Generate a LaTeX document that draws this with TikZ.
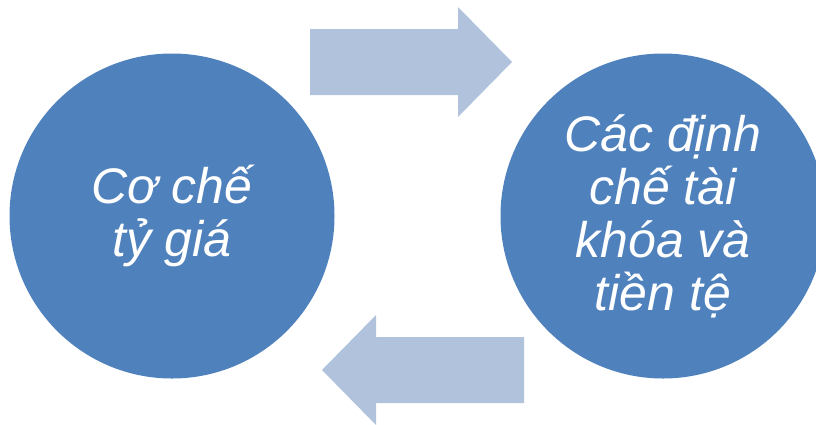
\documentclass[tikz,border=0pt]{standalone}
\usepackage{fontspec}
\setmainfont{Liberation Sans}
\usepackage{tikz}
\usetikzlibrary{shapes}
\definecolor{dotblue}{HTML}{4F81BD}
\definecolor{arrowblue}{HTML}{B1C2DD}

\begin{document}
\begin{tikzpicture}[x=1pt,y=-1pt]
        % 画布大小
        \useasboundingbox (0,0) rectangle (816,424);

        % 两个圆
        \node[circle,fill=dotblue,minimum size=325pt,inner sep=0pt,text=white,align=center,font=\fontsize{50}{53}\selectfont\itshape] (tygia) at (172,216) {Cơ chế\\tỷ giá};
        \node[circle,fill=dotblue,minimum size=325pt,inner sep=0pt,text=white,align=center,font=\fontsize{50}{53}\selectfont\itshape] (dinhche) at (663,216) {Các định\\chế tài\\khóa và\\tiền tệ};

        % 上方箭头
        \fill[arrowblue] (310,29) -- (458,29) -- (458,7) -- (512,62) -- (458,117) -- (458,95) -- (310,95) -- cycle;

        % 下方箭头
        \fill[arrowblue] (524,337) -- (376,337) -- (376,315) -- (322,370) -- (376,425) -- (376,403) -- (524,403) -- cycle;
    \end{tikzpicture}
\end{document}
